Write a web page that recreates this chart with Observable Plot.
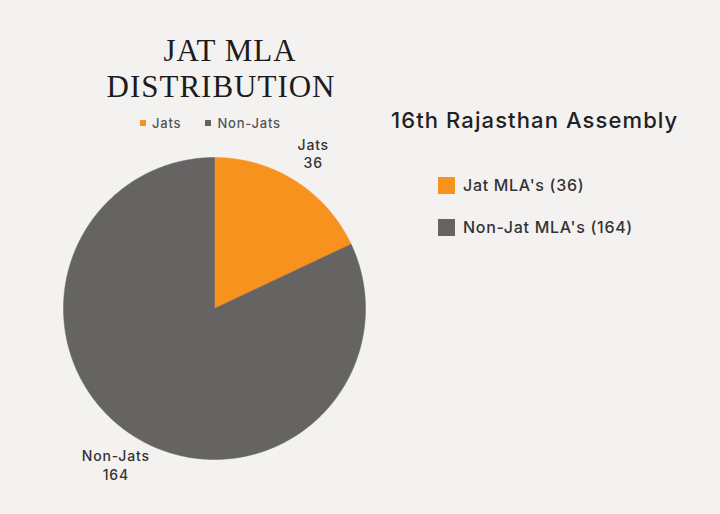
<!DOCTYPE html>
<html>
<head>
<meta charset="utf-8">
<script src="https://cdn.jsdelivr.net/npm/d3@7"></script>
<script src="https://cdn.jsdelivr.net/npm/@observablehq/plot@0.6"></script>
<style>
  html, body { margin: 0; padding: 0; background: #f3f2f0; }
  #page { position: relative; width: 720px; height: 514px; background: #f3f2f0; overflow: hidden; font-family: Inter, "Open Sans", sans-serif; }
  .abs { position: absolute; white-space: nowrap; }
  .title { font-family: "Liberation Serif", "DejaVu Serif", serif; font-size: 31px; letter-spacing: 1px; color: #1c1c1c; line-height: 31px; transform: translateX(-50%); }
  .mini { font-size: 13px; color: #555; line-height: 13px; letter-spacing: 0.8px; font-weight: 500; }
  .mini .sw { display: inline-block; width: 6px; height: 6px; margin-right: 6px; vertical-align: 2px; }
  .sub { font-size: 22px; color: #222; line-height: 22px; letter-spacing: 1.1px; font-weight: 500; }
  .leg { font-size: 16px; color: #333; line-height: 17px; letter-spacing: 0.7px; font-weight: 500; }
  .leg .sw { display: inline-block; width: 17px; height: 17px; margin-right: 8px; vertical-align: -3px; }
  #pie { position: absolute; left: -6px; top: 88px; }
</style>
</head>
<body>
<div id="page">
  <div class="abs title" style="left:230px; top:35px;">JAT MLA</div>
  <div class="abs title" style="left:221px; top:71px;">DISTRIBUTION</div>
  <div class="abs mini" id="mini" style="left:140px; top:117px;"></div>
  <div class="abs sub" style="left:391px; top:109px;">16th Rajasthan Assembly</div>
  <div class="abs" id="legend" style="left:438px; top:177px;"></div>
  <div id="pie"></div>
</div>
<script>
const categories = ["Jats", "Non-Jats"];
const values = [36, 164];
const colors = ["#f7921e", "#656463"];
const legendLabels = ["Jat MLA's (36)", "Non-Jat MLA's (164)"];

// mini legend
const mini = document.getElementById("mini");
categories.forEach((c, i) => {
  const s = document.createElement("span");
  s.style.marginRight = i === 0 ? "24px" : "0";
  s.innerHTML = `<span class="sw" style="background:${colors[i]}"></span>${c}`;
  mini.appendChild(s);
});

// right legend
const legend = document.getElementById("legend");
legendLabels.forEach((l, i) => {
  const d = document.createElement("div");
  d.className = "leg";
  d.style.marginBottom = "25px";
  d.innerHTML = `<span class="sw" style="background:${colors[i]}"></span>${l}`;
  legend.appendChild(d);
});

// pie geometry from data
const arcs = d3.pie().sort(null)(values);
const pts = [];
arcs.forEach((a, i) => {
  pts.push({slice: categories[i], x: 0, y: 0});
  const n = Math.max(8, Math.ceil((a.endAngle - a.startAngle) / 0.01));
  for (let k = 0; k <= n; k++) {
    const t = a.startAngle + (a.endAngle - a.startAngle) * k / n;
    pts.push({slice: categories[i], x: Math.sin(t), y: Math.cos(t)});
  }
  pts.push({slice: categories[i], x: 0, y: 0});
});
const labelR = 1.22;
const labels = arcs.map((a, i) => {
  const m = (a.startAngle + a.endAngle) / 2;
  return {text: `${categories[i]}\n${values[i]}`, x: labelR * Math.sin(m), y: labelR * Math.cos(m)};
});

const size = 440, radiusPx = 151;
const R = size / 2 / radiusPx;
const chart = Plot.plot({
  width: size,
  height: size,
  margin: 0,
  style: {background: "transparent", overflow: "visible", letterSpacing: "0.8px"},
  x: {domain: [-R, R], axis: null},
  y: {domain: [-R, R], axis: null},
  color: {domain: categories, range: colors},
  marks: [
    Plot.line(pts, {x: "x", y: "y", z: "slice", fill: "slice", stroke: "slice", strokeWidth: 0.5, curve: "linear"}),
    Plot.text(labels, {x: "x", y: "y", text: "text", fontSize: 14, fontWeight: 500, lineHeight: 1.35, fill: "#333", fontFamily: "Inter, sans-serif"})
  ]
});
document.getElementById("pie").appendChild(chart);
</script>
</body>
</html>
